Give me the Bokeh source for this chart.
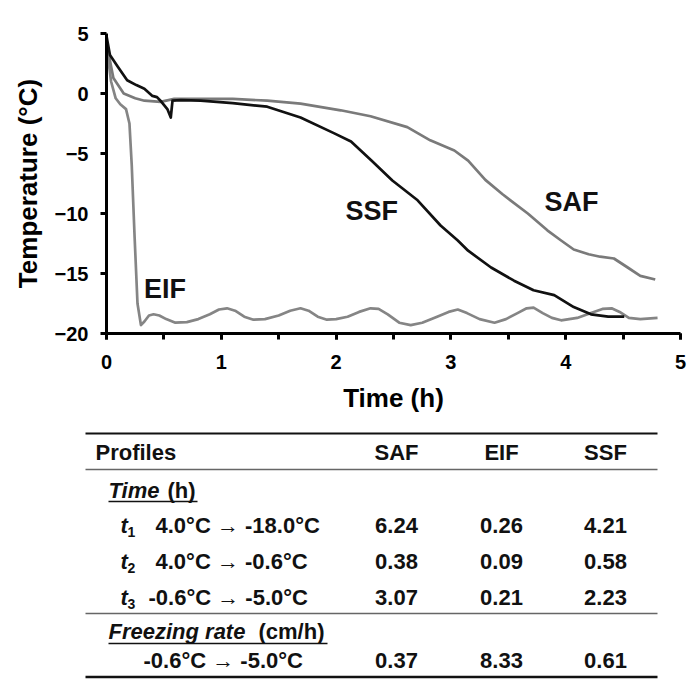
from bokeh.plotting import figure
from bokeh.layouts import column
from bokeh.models import Range1d, SingleIntervalTicker
from bokeh.core.properties import value
from bokeh.embed import file_html
from bokeh.resources import INLINE

FONT = "Liberation Sans"

# ---------------- data ----------------
ssf_t = [0, 0.03, 0.1, 0.18, 0.26, 0.33, 0.40, 0.44, 0.47, 0.53, 0.56, 0.575, 0.65, 0.82, 1.1, 1.4,
         1.69, 1.98, 2.13, 2.31, 2.49, 2.71, 2.91, 3.06, 3.15, 3.35, 3.55, 3.72, 3.90, 4.07, 4.22, 4.37, 4.51]
ssf_T = [4.8, 3.2, 2.2, 1.1, 0.7, 0.4, -0.2, -0.3, -0.6, -1.3, -2.0, -0.6, -0.55, -0.6, -0.8, -1.1,
         -2.0, -3.3, -4.0, -5.6, -7.25, -8.9, -11.0, -12.25, -13.1, -14.5, -15.6, -16.4, -16.8, -17.8, -18.4, -18.6, -18.6]

saf_t = [0, 0.06, 0.15, 0.25, 0.33, 0.47, 0.59, 0.8, 1.1, 1.4, 1.69, 2.04, 2.3, 2.62, 2.82, 3.03, 3.15,
         3.3, 3.45, 3.67, 3.84, 3.96, 4.07, 4.2, 4.3, 4.42, 4.54, 4.65, 4.78]
saf_T = [4.2, 1.3, 0.0, -0.4, -0.6, -0.7, -0.45, -0.45, -0.45, -0.6, -0.85, -1.4, -1.9, -2.8, -3.9, -4.75, -5.6,
         -7.2, -8.4, -10.0, -11.4, -12.25, -13.0, -13.4, -13.6, -13.75, -14.5, -15.2, -15.5]

eif_t = [0, 0.04, 0.08, 0.12, 0.17, 0.2, 0.22, 0.245, 0.27, 0.30, 0.33, 0.37, 0.41, 0.46, 0.52, 0.6, 0.7,
         0.8, 0.9, 0.98, 1.05, 1.12, 1.2, 1.28, 1.38, 1.5, 1.6, 1.69, 1.76, 1.84, 1.92, 2.0, 2.1, 2.2, 2.3,
         2.37, 2.45, 2.55, 2.65, 2.75, 2.88, 2.98, 3.06, 3.14, 3.25, 3.38, 3.48, 3.58, 3.66, 3.72, 3.8, 3.88,
         3.96, 4.1, 4.22, 4.32, 4.4, 4.47, 4.55, 4.65, 4.8]
eif_T = [4.0, 1.0, -0.4, -0.9, -1.3, -2.5, -6.0, -12.0, -17.5, -19.3, -19.0, -18.5, -18.4, -18.5, -18.8, -19.1, -19.05,
         -18.8, -18.4, -18.0, -17.9, -18.1, -18.6, -18.85, -18.8, -18.5, -18.1, -17.9, -18.1, -18.6, -18.85, -18.8, -18.6, -18.2, -17.9,
         -17.95, -18.4, -19.1, -19.3, -19.1, -18.6, -18.2, -18.0, -18.3, -18.8, -19.1, -18.8, -18.3, -17.9, -17.85, -18.3, -18.7,
         -18.9, -18.7, -18.3, -17.95, -17.9, -18.2, -18.7, -18.8, -18.7]

curve_names = ["SSF", "SAF", "EIF"]
curve_label_t = [2.31, 4.05, 0.51]
curve_label_T = [-9.8, -9.0, -16.3]

profiles = ["SAF", "EIF", "SSF"]
t1_vals = [6.24, 0.26, 4.21]
t2_vals = [0.38, 0.09, 0.58]
t3_vals = [3.07, 0.21, 2.23]
rate_vals = [0.37, 8.33, 0.61]
range_t1 = "4.0°C \u2192 -18.0°C"
range_t2 = "4.0°C \u2192 -0.6°C"
range_t3 = "-0.6°C \u2192 -5.0°C"
range_rate = "-0.6°C \u2192 -5.0°C"

FIG_W = 690

# ---------------- chart ----------------
p = figure(width=FIG_W, height=428, x_range=Range1d(0, 5), y_range=Range1d(-20, 5),
           output_backend="svg", toolbar_location=None, frame_align=False,
           min_border_left=106, min_border_right=10, min_border_top=33, min_border_bottom=95)
p.outline_line_color = None
p.grid.visible = False
p.background_fill_color = "white"

xa = p.xaxis[0]
xa.ticker = SingleIntervalTicker(interval=1, num_minor_ticks=2)
ya = p.yaxis[0]
ya.ticker = SingleIntervalTicker(interval=5, num_minor_ticks=5)
for ax in (xa, ya):
    ax.axis_line_width = 3
    ax.axis_line_color = "black"
    ax.major_tick_line_width = 3
    ax.major_tick_line_color = "black"
    ax.major_tick_in = 0
    ax.major_tick_out = 6
    ax.major_label_text_font = FONT
    ax.major_label_text_font_style = "bold"
    ax.major_label_text_font_size = "20px"
    ax.major_label_text_color = "black"
    ax.axis_label_text_font = FONT
    ax.axis_label_text_font_style = "bold"
    ax.axis_label_text_font_size = "26px"
    ax.axis_label_text_color = "black"
xa.minor_tick_line_width = 3
xa.minor_tick_line_color = "black"
xa.minor_tick_in = 0
xa.minor_tick_out = 6
ya.minor_tick_line_color = None
xa.major_label_standoff = 15
ya.major_label_standoff = 12
xa.axis_label = "Time (h)"
ya.axis_label = "Temperature (°C)"
xa.axis_label_standoff = 11
ya.axis_label_standoff = 9

p.line(eif_t, eif_T, line_width=2.7, line_color="#858585", line_join="round")
p.line(saf_t, saf_T, line_width=2.7, line_color="#7a7a7a", line_join="round")
p.line(ssf_t, ssf_T, line_width=2.7, line_color="#111111", line_join="round")

p.text(x=curve_label_t, y=curve_label_T, text=curve_names, text_font=value(FONT),
       text_font_style="bold", text_font_size="27px", text_color="#111111",
       text_align="center", text_baseline="middle")

# ---------------- table (data coordinates = page pixels) ----------------
TOP, BOT = 428, 680
q = figure(width=FIG_W, height=BOT - TOP, x_range=Range1d(0, FIG_W), y_range=Range1d(BOT, TOP),
           output_backend="svg", toolbar_location=None, frame_align=False, min_border=0,
           x_axis_location=None, y_axis_location=None)
q.outline_line_color = None
q.grid.visible = False

L, R = 85, 657
col_x = [396, 501, 605]
fs = "22px"

def txt(xs, ys, texts, align="left", style="bold", size=fs):
    q.text(x=xs, y=ys, text=texts, text_font=value(FONT), text_font_style=style,
           text_font_size=size, text_color="#111111", text_align=align, text_baseline="middle")

# rules
q.segment(x0=[L], y0=[433], x1=[R], y1=[433], line_color="#111111", line_width=2.2)
q.segment(x0=[L, L], y0=[469, 613], x1=[R, R], y1=[469, 613], line_color="#666666", line_width=1.6)
q.segment(x0=[L], y0=[676.5], x1=[R], y1=[676.5], line_color="#111111", line_width=2.5)

# header
txt([95], [452], ["Profiles"])
txt(col_x, [452] * 3, profiles, align="center")

# section titles
txt([108], [490], ["Time"], style="bold italic")
txt([167], [490], ["(h)"])
q.segment(x0=[108], y0=[501], x1=[197], y1=[501], line_color="#111111", line_width=1.5)
txt([108], [631], ["Freezing rate"], style="bold italic")
txt([258], [631], ["(cm/h)"])
q.segment(x0=[108], y0=[643], x1=[327], y1=[643], line_color="#111111", line_width=1.5)

# rows
row_y = [525, 561, 597]
txt([120] * 3, row_y, ["t", "t", "t"], style="bold italic")
txt([127] * 3, [y + 6 for y in row_y], ["1", "2", "3"], size="14px")
txt([155, 155, 148], row_y, [range_t1, range_t2, range_t3])
for vals, y in zip([t1_vals, t2_vals, t3_vals], row_y):
    txt(col_x, [y] * 3, [f"{v:.2f}" for v in vals], align="center")
txt([143], [660], [range_rate])
txt(col_x, [660] * 3, [f"{v:.2f}" for v in rate_vals], align="center")

layout = column(p, q, spacing=0)
open("out.html", "w").write(file_html(layout, INLINE))
